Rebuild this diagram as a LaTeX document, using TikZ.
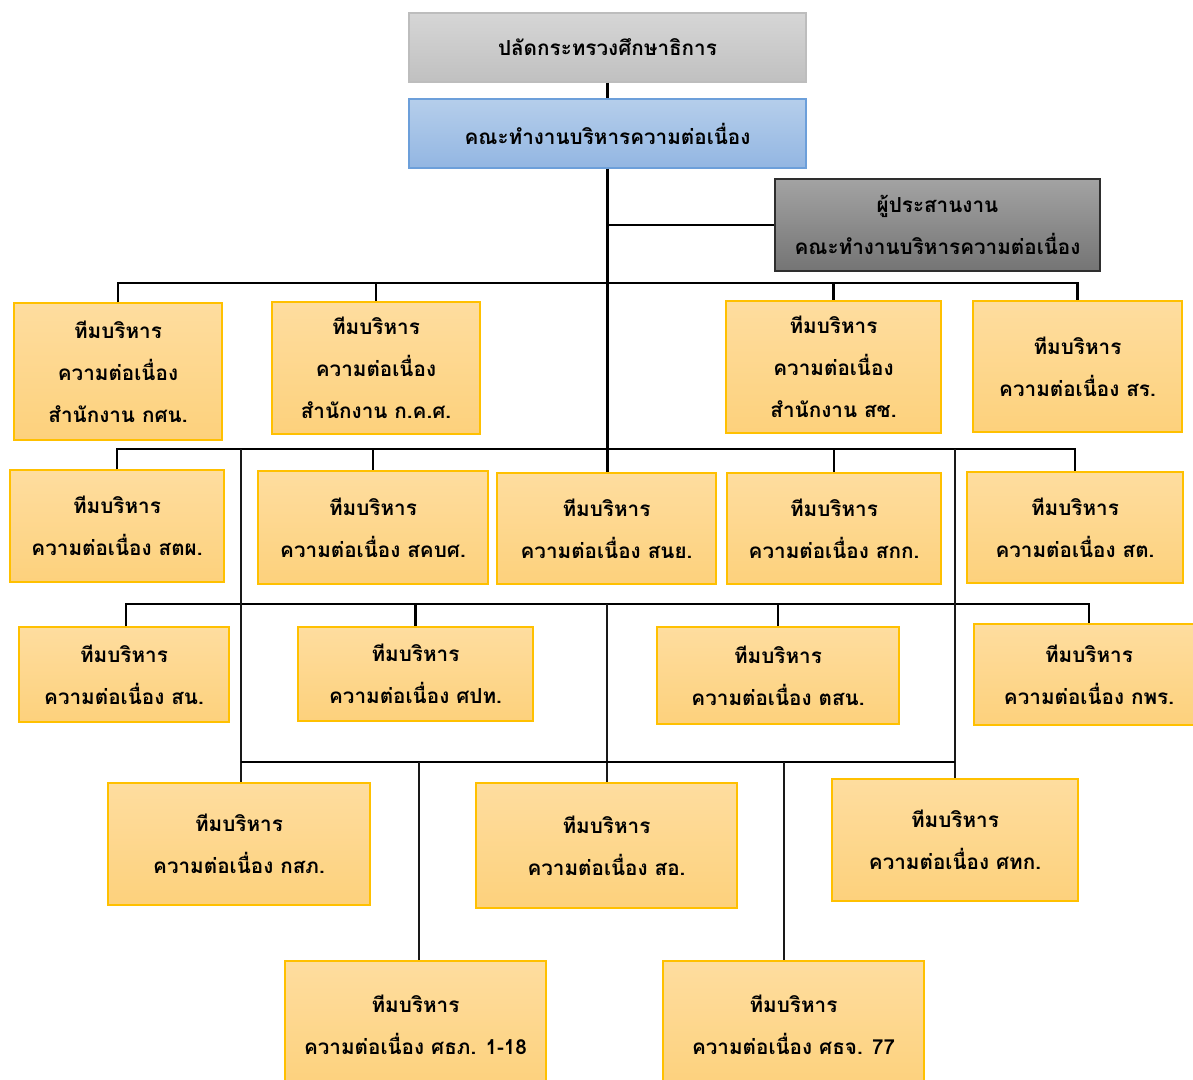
\documentclass[tikz,border=0pt]{standalone}
\usepackage{fontspec}
\newfontfamily\thaifont[Script=Thai]{Loma}
\definecolor{otop}{HTML}{FEDD9F}
\definecolor{obot}{HTML}{FDD17C}
\definecolor{oline}{HTML}{FFC000}
\definecolor{gtop}{HTML}{D6D6D6}
\definecolor{gbot}{HTML}{C0C0C0}
\definecolor{gline}{HTML}{BDBDBD}
\definecolor{btop}{HTML}{B5CEEB}
\definecolor{bbot}{HTML}{93B6E2}
\definecolor{bline}{HTML}{6C9FDA}
\definecolor{dtop}{HTML}{A3A3A3}
\definecolor{dbot}{HTML}{747474}
\definecolor{dline}{HTML}{2E2E2E}
\newcommand\orgbox[6]{\node[#1, minimum width={(#4-#2)*0.75pt}, minimum height={(#5-#3)*0.75pt}] (#6) at ({(#2+#4)/2},{(#3+#5)/2})}
\tikzset{
  base/.style={rectangle, inner sep=0pt, align=center, line width=1pt,
    font=\thaifont\bfseries\fontsize{15.5}{31.5}\selectfont, text=black},
  obox/.style={base, draw=oline, top color=otop, bottom color=obot},
  gbox/.style={base, draw=gline, top color=gtop, bottom color=gbot},
  bbox/.style={base, draw=bline, top color=btop, bottom color=bbot},
  dbox/.style={base, draw=dline, top color=dtop, bottom color=dbot},
  conn/.style={line width=1.9pt, black},
  thinconn/.style={line width=1.4pt, black!90},
}
\begin{document}
\begin{tikzpicture}[x=0.75pt, y=-0.75pt]
\useasboundingbox (0,0) rectangle (1193,1080);
% top boxes
\orgbox{gbox}{409}{13}{806}{82}{pscy} {ปลัดกระทรวงศึกษาธิการ};
\orgbox{bbox}{409}{99}{806}{168}{team} {คณะทำงานบริหารความต่อเนื่อง};
\orgbox{dbox}{775}{179}{1100}{271}{coord} {ผู้ประสานงาน\\คณะทำงานบริหารความต่อเนื่อง};
% row 1
\orgbox{obox}{14}{303}{222}{440}{kshn} {ทีมบริหาร\\ความต่อเนื่อง\\สำนักงาน กศน.};
\orgbox{obox}{272}{302}{480}{434}{kks} {ทีมบริหาร\\ความต่อเนื่อง\\สำนักงาน ก.ค.ศ.};
\orgbox{obox}{726}{301}{941}{433}{sch} {ทีมบริหาร\\ความต่อเนื่อง\\สำนักงาน สช.};
\orgbox{obox}{973}{301}{1182}{432}{sr} {ทีมบริหาร\\ความต่อเนื่อง สร.};
% row 2
\orgbox{obox}{10}{470}{224}{582}{stp} {ทีมบริหาร\\ความต่อเนื่อง สตผ.};
\orgbox{obox}{258}{471}{488}{584}{skbs} {ทีมบริหาร\\ความต่อเนื่อง สคบศ.};
\orgbox{obox}{497}{473}{716}{584}{sny} {ทีมบริหาร\\ความต่อเนื่อง สนย.};
\orgbox{obox}{727}{473}{941}{584}{skk} {ทีมบริหาร\\ความต่อเนื่อง สกก.};
\orgbox{obox}{967}{472}{1183}{583}{st} {ทีมบริหาร\\ความต่อเนื่อง สต.};
% row 3
\orgbox{obox}{19}{627}{229}{722}{sn} {ทีมบริหาร\\ความต่อเนื่อง สน.};
\orgbox{obox}{298}{627}{533}{721}{spt} {ทีมบริหาร\\ความต่อเนื่อง ศปท.};
\orgbox{obox}{657}{627}{899}{724}{tsn} {ทีมบริหาร\\ความต่อเนื่อง ตสน.};
\orgbox{obox}{974}{624}{1204}{725}{kpr} {ทีมบริหาร\\ความต่อเนื่อง กพร.};
% row 4
\orgbox{obox}{108}{783}{370}{905}{ksp} {ทีมบริหาร\\ความต่อเนื่อง กสภ.};
\orgbox{obox}{476}{783}{737}{908}{so} {ทีมบริหาร\\ความต่อเนื่อง สอ.};
\orgbox{obox}{832}{779}{1078}{901}{stk} {ทีมบริหาร\\ความต่อเนื่อง ศทก.};
% row 5
\orgbox{obox}{285}{961}{546}{1089}{sthp} {ทีมบริหาร\\ความต่อเนื่อง ศธภ. 1-18};
\orgbox{obox}{663}{961}{924}{1089}{sjj} {ทีมบริหาร\\ความต่อเนื่อง ศธจ. 77};
% bus coordinates
\coordinate (b1) at (0,283);
\coordinate (b2) at (0,449);
\coordinate (b3) at (0,604);
\coordinate (b4) at (0,762);
\coordinate (d5) at (784,762);
% connectors
\draw[conn] (pscy.south) -- (pscy.south |- team.north);
\draw[conn] (team.south) -- (team.south |- sny.north);
\draw[conn] (team.south |- coord.west) -- (coord.west);
% row 1 bus
\draw[conn] (kshn.north) -- (kshn.north |- b1) -- (sr.north |- b1) -- (sr.north);
\draw[conn] (kks.north |- b1) -- (kks.north);
\draw[conn] (sch.north |- b1) -- (sch.north);
% row 2 bus
\draw[conn] (stp.north) -- (stp.north |- b2) -- (st.north |- b2) -- (st.north);
\draw[conn] (skbs.north |- b2) -- (skbs.north);
\draw[conn] (skk.north |- b2) -- (skk.north);
% row 3 bus
\draw[conn] ([xshift=1.5pt]sn.north) -- ([xshift=1.5pt]sn.north |- b3) -- (kpr.north |- b3) -- (kpr.north);
\draw[conn] (spt.north |- b3) -- (spt.north);
\draw[conn] (tsn.north |- b3) -- (tsn.north);
% long verticals
\draw[thinconn] ([xshift=1.5pt]ksp.north |- b2) -- ([xshift=1.5pt]ksp.north);
\draw[thinconn] (stk.north |- b2) -- (stk.north);
\draw[thinconn] ([xshift=0.6pt]so.north |- b3) -- ([xshift=0.6pt]so.north);
% row 4 bus
\draw[conn] ([xshift=1.5pt]ksp.north |- b4) -- (stk.north |- b4);
\draw[thinconn] ([xshift=2.5pt]sthp.north |- b4) -- ([xshift=2.5pt]sthp.north);
\draw[thinconn] (d5) -- (d5 |- sjj.north);
\end{tikzpicture}
\end{document}
